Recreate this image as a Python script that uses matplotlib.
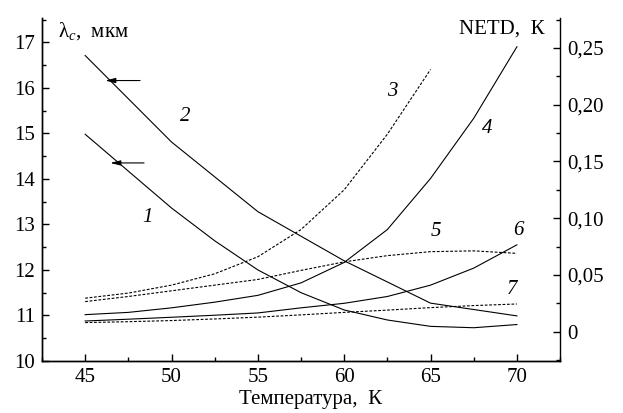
import matplotlib
matplotlib.use("Agg")
import matplotlib.pyplot as plt
from matplotlib.ticker import MultipleLocator, FixedLocator

plt.rcParams['font.family'] = ['Liberation Serif', 'DejaVu Serif']
plt.rcParams['mathtext.fontset'] = 'custom'
plt.rcParams['mathtext.rm'] = 'Liberation Serif'
plt.rcParams['mathtext.it'] = 'Liberation Serif:italic'

# temperature grid, K
temp = [45, 47.5, 50, 52.5, 55, 57.5, 60, 62.5, 65, 67.5, 70]
temp5 = [45, 50, 55, 60, 65, 70]
temp3 = [45, 47.5, 50, 52.5, 55, 57.5, 60, 62.5, 65]

# cutoff wavelength, um (left axis)
lam1 = [14.98, 14.17, 13.36, 12.64, 12.00, 11.50, 11.12, 10.90, 10.76, 10.73, 10.80]
lam2 = [16.71, 14.81, 13.28, 12.20, 11.27, 10.99]

# NETD, K (right axis)
netd3 = [0.0295, 0.034, 0.041, 0.051, 0.066, 0.090, 0.125, 0.174, 0.231]
netd4 = [0.015, 0.017, 0.021, 0.026, 0.032, 0.043, 0.061, 0.090, 0.135, 0.188, 0.251]
netd5 = [0.0265, 0.031, 0.036, 0.041, 0.046, 0.054, 0.0615, 0.067, 0.0705, 0.0712, 0.069]
netd6 = [0.0094, 0.011, 0.0127, 0.0145, 0.0165, 0.021, 0.025, 0.031, 0.041, 0.056, 0.0765]
netd7 = [0.008, 0.0088, 0.0098, 0.0112, 0.0128, 0.0148, 0.0170, 0.019, 0.0212, 0.023, 0.0244]

right_ticks = [0, 0.05, 0.10, 0.15, 0.20, 0.25]
right_labels = ['0', '0,05', '0,10', '0,15', '0,20', '0,25']

fig = plt.figure(figsize=(6.23, 4.13), dpi=100)
ax = fig.add_axes([0.0674, 0.126, 0.8316, 0.830])
ax2 = ax.twinx()

lw = 0.8
dash = (0, (2.5, 1.5))
ax.plot(temp, lam1, color='k', lw=lw)
ax.plot(temp5, lam2, color='k', lw=lw)
ax2.plot(temp3, netd3, color='k', lw=lw, ls=dash)
ax2.plot(temp, netd4, color='k', lw=lw)
ax2.plot(temp, netd5, color='k', lw=lw, ls=dash)
ax2.plot(temp, netd6, color='k', lw=lw)
ax2.plot(temp, netd7, color='k', lw=lw, ls=dash)

ax.set_xlim(42.5, 72.5)
ax.set_ylim(10, 17.53)
ax2.set_ylim(-0.0258, 0.2762)

for a in (ax, ax2):
    a.spines['top'].set_visible(False)
    for s in a.spines.values():
        s.set_linewidth(1.0)
ax.spines['right'].set_visible(False)

ax.xaxis.set_major_locator(MultipleLocator(5))
ax.xaxis.set_minor_locator(MultipleLocator(2.5))
ax.yaxis.set_major_locator(MultipleLocator(1))
ax.yaxis.set_minor_locator(MultipleLocator(0.5))
ax2.yaxis.set_major_locator(FixedLocator(right_ticks))
ax2.set_yticklabels(right_labels)
ax2.yaxis.set_minor_locator(MultipleLocator(0.025))

ax.tick_params(which='both', direction='in', labelsize=15, top=False, right=False)
ax.tick_params(which='major', length=5, width=1, pad=5)
ax.tick_params(which='minor', length=3, width=1)
ax2.tick_params(which='both', direction='in', labelsize=15)
ax2.tick_params(which='major', length=5, width=1, pad=5)
ax2.tick_params(which='minor', length=3, width=1)

ax.set_xlabel('Температура,  К', fontsize=15)
ax.xaxis.set_label_coords(0.519, -0.085)
ax.text(0.03, 0.995, r'λ$_{\mathit{c}}$,  мкм', transform=ax.transAxes,
        fontsize=15, ha='left', va='top')
ax2.text(0.97, 0.995, 'NETD,  К', transform=ax2.transAxes,
         fontsize=15, ha='right', va='top')

# curve numbers
num_style = dict(fontsize=15, style='italic', ha='center', va='center')
ax.text(48.6, 13.16, '1', **num_style)
ax.text(50.8, 15.36, '2', **num_style)
ax2.text(62.8, 0.2117, '3', **num_style)
ax2.text(68.3, 0.179, '4', **num_style)
ax2.text(65.3, 0.088, '5', **num_style)
ax2.text(70.1, 0.089, '6', **num_style)
ax2.text(69.7, 0.0368, '7', **num_style)

# arrows pointing to the left axis
arr = dict(arrowstyle='-|>,head_length=0.6,head_width=0.15', lw=lw, color='k',
           shrinkA=0, shrinkB=0)
ax.annotate('', xy=(46.16, 16.16), xytext=(48.18, 16.16), arrowprops=arr)
ax.annotate('', xy=(46.45, 14.35), xytext=(48.41, 14.35), arrowprops=arr)

fig.savefig('out.png', dpi=100)
